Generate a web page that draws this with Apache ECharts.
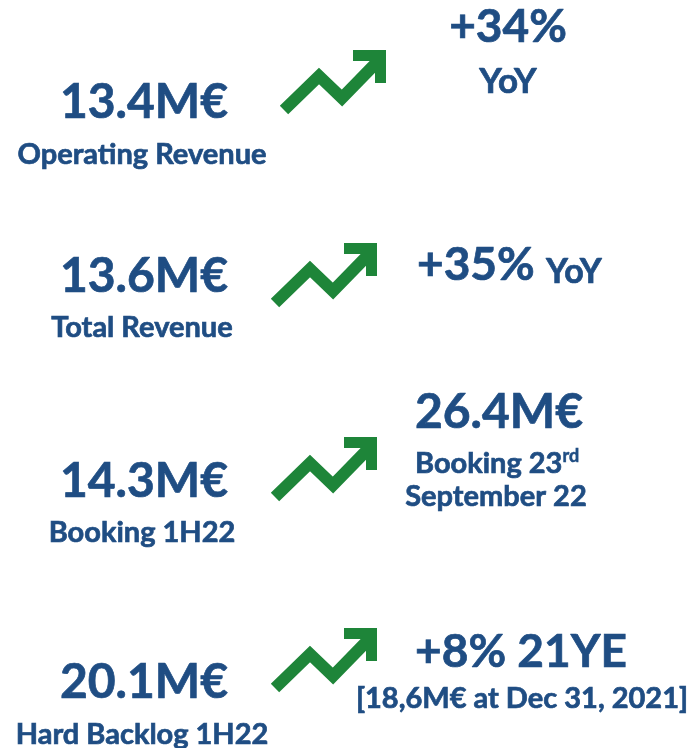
<!DOCTYPE html>
<html>
<head>
<meta charset="utf-8">
<script src="https://cdn.jsdelivr.net/npm/echarts@6/dist/echarts.min.js"></script>
<style>
  html, body { margin: 0; padding: 0; background: #fff; }
  #main { width: 692px; height: 748px; }
</style>
</head>
<body>
<div id="main"></div>
<script>
// 指标数据
var metricValues = ['13.4M€', '13.6M€', '14.3M€', '20.1M€'];
var metricLabels = ['Operating Revenue', 'Total Revenue', 'Booking 1H22', 'Hard Backlog 1H22'];
// 右侧变化
var changeMain = ['+34%', '+35%', '26.4M€', '+8% 21YE'];
var changeSub = ['YoY', 'YoY', 'Booking 23', '[18,6M€ at Dec 31, 2021]'];
var changeSup = 'rd';
var changeSub2 = 'September 22';

var BLUE = '#1f4d83';
var GREEN = '#1e8539';
var FONT = 'Lato, "Open Sans", sans-serif';

// 每行的布局 (大写字母中线)
var rowY = [101, 275, 480, 681];
var labelY = [152.5, 325.5, 531, 732.5];
var arrowPos = [[279, 50], [270, 243], [270, 437], [270, 628]];

var chart = echarts.init(document.getElementById('main'), null, { renderer: 'canvas' });

function arrow(x, y) {
  return {
    type: 'group',
    x: x,
    y: y,
    children: [
      {
        type: 'polyline',
        shape: { points: [[5, 60], [40, 26], [63, 48], [102, 8]] },
        style: { stroke: GREEN, lineWidth: 12, fill: null, lineJoin: 'miter', lineCap: 'butt' }
      },
      {
        type: 'polygon',
        shape: { points: [[107, 0], [74, 0], [74, 11], [96, 11], [96, 33], [107, 33]] },
        style: { fill: GREEN }
      }
    ]
  };
}

function txt(x, y, text, size, align) {
  return {
    type: 'text',
    x: x,
    y: y + 2,
    style: {
      text: text,
      fill: BLUE,
      stroke: BLUE,
      lineWidth: 0.7,
      font: 'bold ' + size + 'px ' + FONT,
      align: align || 'center',
      verticalAlign: 'middle'
    }
  };
}

var els = [];
metricValues.forEach(function (v, i) {
  els.push(txt(144, rowY[i], v, 48));
  els.push(txt(142, labelY[i], metricLabels[i], 29));
  els.push(arrow(arrowPos[i][0], arrowPos[i][1]));
});

// 第一行
els.push(txt(508, 25, changeMain[0], 46));
els.push(txt(508, 80, changeSub[0], 35));
// 第二行
els.push(txt(417, 263.5, changeMain[1], 46, 'left'));
els.push(txt(546, 270, changeSub[1], 34, 'left'));
// 第三行
els.push(txt(499, 410.5, changeMain[2], 48));
els.push({
  type: 'text', x: 415, y: 464,
  style: {
    text: '{t|' + changeSub[2] + '}{s|' + changeSup + '}',
    align: 'left', verticalAlign: 'middle',
    rich: {
      t: { fill: BLUE, stroke: BLUE, lineWidth: 0.7, font: 'bold 29px ' + FONT, lineHeight: 34 },
      s: { fill: BLUE, stroke: BLUE, lineWidth: 0.5, font: 'bold 18px ' + FONT, lineHeight: 22, verticalAlign: 'top' }
    }
  }
});
els.push(txt(496, 495, changeSub2, 29));
// 第四行
els.push(txt(521, 650, changeMain[3], 46));
els.push(txt(522, 697, changeSub[3], 29));

chart.setOption({
  backgroundColor: '#ffffff',
  graphic: { elements: els }
});

window.onresize = function () { chart.resize(); };
</script>
</body>
</html>
